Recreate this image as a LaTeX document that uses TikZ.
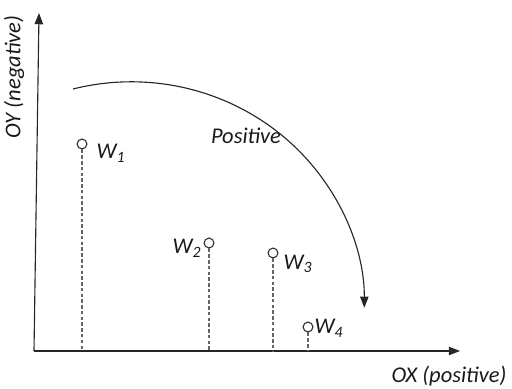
\documentclass[tikz,border=0pt]{standalone}
\usepackage{fontspec}
\setmainfont{Carlito}
\usetikzlibrary{arrows.meta}

\tikzset{
    axis/.style={line width=0.8pt, black!85, -{Triangle[length=8pt, width=6pt]}},
    drop/.style={line width=0.9pt, black!60, dash pattern=on 2.5pt off 1.6pt},
    point/.style={circle, draw=black!80, line width=0.8pt, fill=white, minimum size=7pt, inner sep=0pt},
    lbl/.style={font=\fontsize{16}{18}\selectfont\itshape, text=black!90, inner sep=1pt}
}

\begin{document}
\begin{tikzpicture}[x=0.025cm, y=0.025cm]

    \useasboundingbox (0,0) rectangle (512,388);

    % Axes
    \coordinate (o) at (34,37);
    \coordinate (xend) at (460,37);
    \coordinate (yend) at (39,375);
    \draw[axis] (o) -- (xend);
    \draw[axis] (o) -- (yend);
    \node[lbl, rotate=90] (ylab) at (14,311) {OY (negative)};
    \node[lbl] (xlab) at (449,12) {OX (positive)};

    % Points with drop lines
    \foreach \n/\x/\y in {1/82/244, 2/209/145, 3/273/135, 4/308/61} {
        \node[point] (w\n) at (\x,\y) {};
        \coordinate (f\n) at (\x,37);
        \draw[drop] (w\n.south) -- (f\n);
    }

    % Labels
    \node[lbl, anchor=west] (l1) at (95,235) {W\textsubscript{1}};
    \node[lbl, anchor=east] (l2) at (203,140) {W\textsubscript{2}};
    \node[lbl, anchor=west] (l3) at (282,124) {W\textsubscript{3}};
    \node[lbl, anchor=west] (l4) at (313,60) {W\textsubscript{4}};

    % Rotation arrow
    \draw[line width=0.8pt, black!85, -{Triangle[length=8pt, width=6pt]}]
        (73,299) arc[start angle=104.5, end angle=0, x radius=233, y radius=226];
    \node[lbl] (pos) at (246,252) {Positive};

\end{tikzpicture}
\end{document}
